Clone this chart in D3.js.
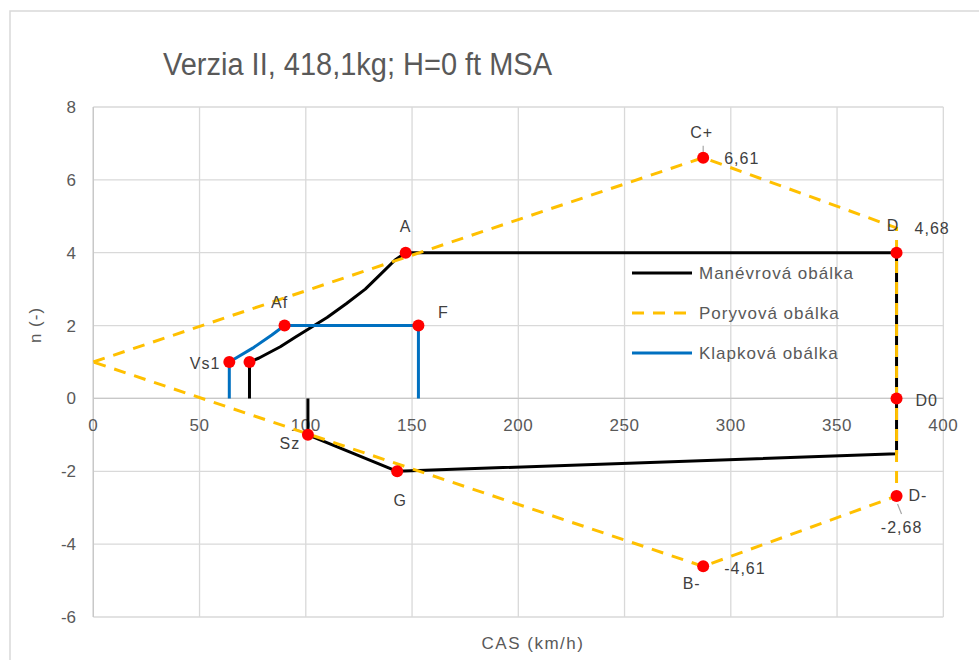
<!DOCTYPE html>
<html><head><meta charset="utf-8">
<script src="https://cdn.jsdelivr.net/npm/d3@7"></script>
<style>
html,body{margin:0;padding:0;background:#fff;}
svg{display:block;font-family:"Liberation Sans",Arial,sans-serif;}
</style></head>
<body>
<svg id="chart" width="979" height="660"></svg>
<script>
// ---- data ----
const titleText = "Verzia II, 418,1kg; H=0 ft MSA";
const xTicks = [0, 50, 100, 150, 200, 250, 300, 350, 400];
const yTicks = [-6, -4, -2, 0, 2, 4, 6, 8];

const maneuverV = [73.5, 73.5, 78, 88, 95, 103, 110, 119, 128, 135, 142, 147, 378, 378, 143, 101, 101];
const maneuverN = [0, 1, 1.11, 1.42, 1.68, 1.97, 2.22, 2.6, 3.0, 3.4, 3.8, 4, 4, -1.52, -2, -1, 0];

const gustV = [0, 287, 378, 378, 287, 0];
const gustN = [1, 6.61, 4.68, -2.68, -4.61, 1];

const flapV = [64, 64, 75, 84, 90, 153, 153];
const flapN = [0, 1, 1.38, 1.74, 2, 2, 0];

const pointNames = ["Vs1", "", "Af", "F", "A", "C+", "D", "D0", "D-", "B-", "G", "Sz"];
const pointV = [64, 73.5, 90, 153, 147, 287, 378, 378, 378, 287, 143, 101];
const pointN = [1, 1, 2, 2, 4, 6.61, 4, 0, -2.68, -4.61, -2, -1];
const pointValues = ["", "", "", "", "", "6,61", "4,68", "", "-2,68", "-4,61", "", ""];

const seriesNames = ["Manévrová obálka", "Poryvová obálka", "Klapková obálka"];

// ---- drawing ----
const svg = d3.select("#chart");
const L = 93.3, R = 943.3, T = 107, B = 617;
const x = d3.scaleLinear().domain([0, 400]).range([L, R]);
const y = d3.scaleLinear().domain([-6, 8]).range([B, T]);

svg.append("rect").attr("width", 979).attr("height", 660).attr("fill", "#fff");
// outer chart border (top & left visible)
svg.append("path").attr("d", "M10,660 L10,11 L979,11").attr("fill", "none")
  .attr("stroke", "#d9d9d9").attr("stroke-width", 1.5);

// title
svg.append("text").attr("x", 163).attr("y", 75).attr("font-size", 31)
  .attr("fill", "#595959").attr("textLength", 389).attr("lengthAdjust", "spacingAndGlyphs")
  .text(titleText);

// grid
const g = svg.append("g");
g.selectAll(".vg").data(xTicks).join("line")
  .attr("x1", d => x(d)).attr("x2", d => x(d)).attr("y1", T).attr("y2", B)
  .attr("stroke", "#d9d9d9").attr("stroke-width", 1.3);
g.selectAll(".hg").data(yTicks).join("line")
  .attr("x1", L).attr("x2", R).attr("y1", d => y(d)).attr("y2", d => y(d))
  .attr("stroke", "#d9d9d9").attr("stroke-width", 1.3);
// axes lines
svg.append("line").attr("x1", x(0)).attr("x2", x(0)).attr("y1", T).attr("y2", B)
  .attr("stroke", "#c8c8c8").attr("stroke-width", 1.3);
svg.append("line").attr("x1", L).attr("x2", R).attr("y1", y(0)).attr("y2", y(0))
  .attr("stroke", "#c8c8c8").attr("stroke-width", 1.3);

// tick labels
svg.selectAll(".yt").data(yTicks).join("text")
  .attr("x", 76).attr("y", d => y(d) + 6).attr("text-anchor", "end")
  .attr("font-size", 17).attr("fill", "#595959").text(d => d);
svg.selectAll(".xt").data(xTicks).join("text")
  .attr("x", d => x(d)).attr("y", y(0) + 33).attr("text-anchor", "middle")
  .attr("font-size", 17).attr("fill", "#595959").attr("letter-spacing", 0.5).text(d => d);

// axis titles
svg.append("text").attr("x", 533).attr("y", 649).attr("text-anchor", "middle")
  .attr("font-size", 17).attr("letter-spacing", 1.5).attr("fill", "#595959").text("CAS (km/h)");
svg.append("text").attr("transform", "translate(41,325) rotate(-90)").attr("text-anchor", "middle")
  .attr("font-size", 17).attr("letter-spacing", 1).attr("fill", "#595959").text("n (-)");

// series lines
const line = d3.line().x(d => x(d[0])).y(d => y(d[1]));
const maneuver = maneuverV.map((v, i) => [v, maneuverN[i]]);
const gust = gustV.map((v, i) => [v, gustN[i]]);
const flap = flapV.map((v, i) => [v, flapN[i]]);

svg.append("path").attr("d", line(maneuver)).attr("fill", "none")
  .attr("stroke", "#000").attr("stroke-width", 3).attr("stroke-linejoin", "round");
svg.append("path").attr("d", line(gust)).attr("fill", "none")
  .attr("stroke", "#FFC000").attr("stroke-width", 3).attr("stroke-dasharray", "12,9");
svg.append("path").attr("d", line(flap)).attr("fill", "none")
  .attr("stroke", "#0070C0").attr("stroke-width", 3).attr("stroke-linejoin", "round");

// label offsets (pixel placement only)
const nameOff = {
  "Vs1": [-9, 7, "end"], "Af": [-5, -18, "middle"], "F": [25, -8, "middle"],
  "A": [0, -21, "middle"], "C+": [-1.5, -20, "middle"], "D": [-3.5, -22, "middle"],
  "D0": [19, 8, "start"], "D-": [12, 5, "start"], "B-": [-11.5, 23, "middle"],
  "G": [3, 35, "middle"], "Sz": [-18, 14, "middle"]
};
const valOff = {
  "C+": [21, 6, "start"], "D": [18, -19, "start"], "D-": [5, 37, "middle"], "B-": [21, 8, "start"]
};

// leader lines
const leaders = {"C+": [[0, -12], [0, -6]], "D-": [[1, 8], [5, 18]]};
pointNames.forEach((nm, i) => {
  if (leaders[nm]) {
    const px = x(pointV[i]), py = y(pointN[i]);
    svg.append("line").attr("x1", px + leaders[nm][0][0]).attr("y1", py + leaders[nm][0][1])
      .attr("x2", px + leaders[nm][1][0]).attr("y2", py + leaders[nm][1][1])
      .attr("stroke", "#a6a6a6").attr("stroke-width", 1.2);
  }
});

// markers
svg.selectAll(".pt").data(pointV).join("circle")
  .attr("cx", d => x(d)).attr("cy", (d, i) => y(pointN[i])).attr("r", 6).attr("fill", "#FF0000");

// labels
pointNames.forEach((nm, i) => {
  const px = x(pointV[i]), py = y(pointN[i]);
  if (nm && nameOff[nm]) {
    const o = nameOff[nm];
    svg.append("text").attr("x", px + o[0]).attr("y", py + o[1]).attr("text-anchor", o[2])
      .attr("font-size", 16).attr("letter-spacing", 1).attr("fill", "#404040").text(nm);
  }
  if (pointValues[i] && valOff[nm]) {
    const o = valOff[nm];
    svg.append("text").attr("x", px + o[0]).attr("y", py + o[1]).attr("text-anchor", o[2])
      .attr("font-size", 16).attr("letter-spacing", 1).attr("fill", "#404040").text(pointValues[i]);
  }
});

// legend
const legY = [273, 313, 353];
const legStyles = [
  {stroke: "#000", dash: null},
  {stroke: "#FFC000", dash: "12,9"},
  {stroke: "#0070C0", dash: null}
];
seriesNames.forEach((nm, i) => {
  svg.append("line").attr("x1", 632).attr("x2", 692).attr("y1", legY[i]).attr("y2", legY[i])
    .attr("stroke", legStyles[i].stroke).attr("stroke-width", 3)
    .attr("stroke-dasharray", legStyles[i].dash);
  svg.append("text").attr("x", 699).attr("y", legY[i] + 6).attr("font-size", 17)
    .attr("letter-spacing", 1).attr("fill", "#595959").text(nm);
});
</script>
</body></html>
